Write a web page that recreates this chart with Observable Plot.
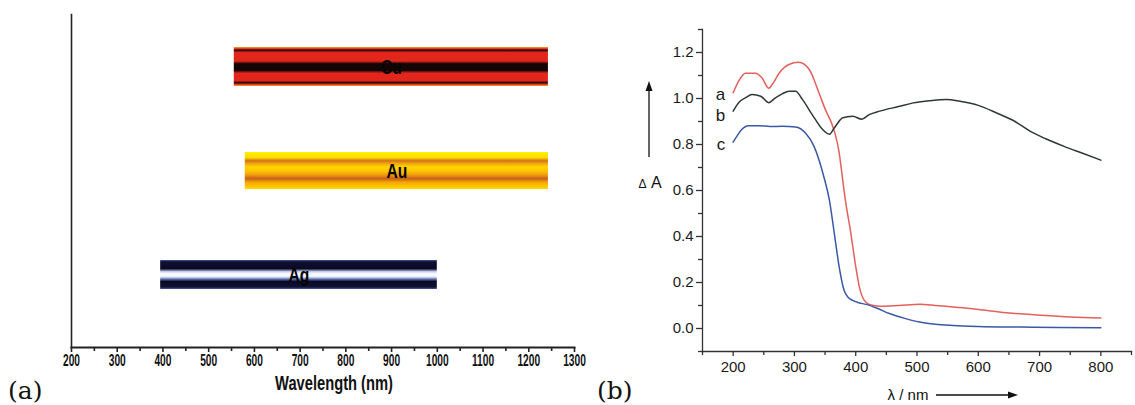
<!DOCTYPE html>
<html><head><meta charset="utf-8">
<script src="https://cdn.jsdelivr.net/npm/d3@7"></script>
<script src="https://cdn.jsdelivr.net/npm/@observablehq/plot@0.6"></script>
<style>
body{margin:0;background:#fff;}
#wrap{position:relative;width:1135px;height:405px;overflow:hidden;background:#fff;}
#pa{position:absolute;left:0;top:0;}
#pb{position:absolute;left:600px;top:0;}
.tag{position:absolute;font-family:"DejaVu Serif","Liberation Serif",serif;font-size:25px;color:#111;line-height:1;}
</style></head><body>
<div id="wrap"><div id="pa"></div><div id="pb"></div>
<div class="tag" style="left:8px;top:378px">(a)</div>
<div class="tag" style="left:597px;top:378px">(b)</div>
</div>
<script>
// ---------- Panel (a) data ----------
const metals = ["Cu", "Au", "Ag"];
const rangeStart = [556, 580, 395];
const rangeEnd = [1243, 1243, 1000];
const xTicksA = [200, 300, 400, 500, 600, 700, 800, 900, 1000, 1100, 1200, 1300];
const xMinorA = [250, 350, 450, 550, 650, 750, 850, 950, 1050, 1150, 1250];

// ---------- Panel (b) data ----------
const wlA = [200, 210, 220, 236, 247, 258, 266, 275, 291, 307, 324, 340, 350, 361, 366, 373, 376, 383, 392, 400, 406, 414, 422, 440, 470, 505, 530, 586, 640, 700, 750, 800];
const dAA = [1.025, 1.08, 1.11, 1.11, 1.09, 1.045, 1.07, 1.11, 1.148, 1.158, 1.127, 1.025, 0.955, 0.89, 0.85, 0.765, 0.705, 0.56, 0.415, 0.27, 0.18, 0.122, 0.105, 0.097, 0.100, 0.105, 0.100, 0.087, 0.07, 0.058, 0.05, 0.046];
const wlB = [200, 210, 220, 231, 245, 258, 269, 280, 291, 302, 313, 329, 346, 357, 365, 379, 395, 410, 422, 439, 470, 494, 520, 548, 570, 600, 630, 660, 685, 710, 740, 770, 800];
const dAB = [0.945, 0.985, 1.003, 1.017, 1.01, 0.982, 1.003, 1.02, 1.032, 1.032, 0.996, 0.93, 0.865, 0.845, 0.872, 0.916, 0.923, 0.91, 0.93, 0.945, 0.965, 0.981, 0.99, 0.996, 0.988, 0.97, 0.937, 0.9, 0.857, 0.825, 0.792, 0.762, 0.732];
const wlC = [200, 207, 214, 225, 242, 260, 280, 302, 318, 332, 340, 348, 357, 365, 373, 381, 388, 395, 405, 417, 435, 455, 480, 504, 530, 559, 600, 669, 730, 800];
const dAC = [0.81, 0.84, 0.865, 0.882, 0.882, 0.878, 0.879, 0.876, 0.85, 0.792, 0.734, 0.66, 0.559, 0.415, 0.268, 0.166, 0.135, 0.122, 0.112, 0.105, 0.088, 0.065, 0.044, 0.028, 0.018, 0.013, 0.009, 0.006, 0.004, 0.003];
const seriesNames = ["a", "b", "c"];
const seriesColors = ["#e2615b", "#2e3838", "#3a58a6"];
const xTicksB = [200, 300, 400, 500, 600, 700, 800];
const xMinorB = [150, 250, 350, 450, 550, 650, 750, 850];
const yTicksB = [0, 0.2, 0.4, 0.6, 0.8, 1.0, 1.2];
const yMinorB = [-0.1, 0.1, 0.3, 0.5, 0.7, 0.9, 1.1, 1.3];

// ---------- Panel (a) ----------
const bars = metals.map((m, i) => ({metal: m, start: rangeStart[i], end: rangeEnd[i]}));
const boldFont = "'Liberation Sans',Arial,sans-serif";
const insets = {Cu: -1, Au: 0, Ag: 4};
const pa = Plot.plot({
  width: 600, height: 405,
  marginLeft: 71, marginRight: 26, marginTop: 14, marginBottom: 58,
  x: {domain: [200, 1300]},
  y: {type: "band", domain: metals, range: [14.5, 326.5], paddingInner: 0.644, paddingOuter: 0.322, axis: null},
  style: {background: "transparent", overflow: "visible"},
  marks: [
    ...metals.map(m => Plot.barX(bars.filter(d => d.metal === m), {
      x1: "start", x2: "end", y: "metal",
      fill: `url(#grad-${m})`,
      insetTop: insets[m], insetBottom: insets[m]
    })),
    Plot.text(bars, {x: d => (d.start + d.end) / 2, y: "metal", text: "metal", dy: 1,
      fontWeight: "bold", fontSize: 20, fontFamily: boldFont, fill: "#050505", className: "squeeze-78"}),
    Plot.frame({anchor: "left", stroke: "#222", strokeWidth: 1.6}),
    Plot.frame({anchor: "bottom", stroke: "#222", strokeWidth: 2}),
    Plot.axisX({ticks: xTicksA, tickSize: 5, tickPadding: 1, tickFormat: d => String(d), label: null,
      fontSize: 17, fontWeight: "bold", fontFamily: boldFont, stroke: "#222", strokeWidth: 1.6, color: "#111",
      className: "squeeze-60"}),
    Plot.axisX({ticks: xMinorA, tickSize: 4, tickFormat: () => "", label: null, stroke: "#222", strokeWidth: 1.6}),
    Plot.text(["Wavelength (nm)"], {frameAnchor: "bottom", dx: 11, dy: 42,
      fontWeight: "bold", fontSize: 21, fontFamily: boldFont, fill: "#111", className: "squeeze-70"})
  ]
});
document.getElementById("pa").appendChild(pa);

// condense bold labels in panel (a) like the reference's narrow face
for (const [cls, f] of [["squeeze-60", 0.60], ["squeeze-70", 0.70], ["squeeze-78", 0.78]]) {
  d3.select(pa).selectAll(`.${cls} text`).each(function () {
    const len = this.getComputedTextLength();
    if (len > 0) d3.select(this).attr("textLength", len * f).attr("lengthAdjust", "spacingAndGlyphs");
  });
}

const defs = d3.select(pa).insert("defs", ":first-child");
const gradStops = {
  Cu: [[0, "#f6a52a"], [0.04, "#e8391f"], [0.08, "#1a0807"], [0.14, "#e2261c"], [0.36, "#e2261c"], [0.43, "#140505"], [0.60, "#140505"], [0.67, "#e2261c"], [0.86, "#e2261c"], [0.92, "#1a0807"], [0.96, "#e8391f"], [1, "#f6a52a"]],
  Au: [[0, "#fff200"], [0.15, "#ffd800"], [0.24, "#d0701a"], [0.30, "#f0a010"], [0.40, "#ffd400"], [0.52, "#ffc400"], [0.62, "#f09a10"], [0.72, "#c8601a"], [0.82, "#f5a800"], [1, "#ffd800"]],
  Ag: [[0, "#4858a8"], [0.06, "#101030"], [0.30, "#0a0a25"], [0.40, "#c8d0f0"], [0.48, "#ffffff"], [0.58, "#e8ecff"], [0.66, "#6070b0"], [0.74, "#0a0a25"], [0.93, "#101030"], [1, "#4858a8"]]
};
for (const m of metals) {
  const g = defs.append("linearGradient").attr("id", `grad-${m}`)
    .attr("x1", 0).attr("y1", 0).attr("x2", 0).attr("y2", 1);
  for (const [o, c] of gradStops[m]) g.append("stop").attr("offset", o).attr("stop-color", c);
}

// ---------- Panel (b) ----------
const curves = [[wlA, dAA], [wlB, dAB], [wlC, dAC]].map(([w, v], k) =>
  w.map((x, i) => ({series: seriesNames[k], wl: x, dA: v[i]})));
const font = "'Liberation Sans',Arial,sans-serif";
const labelDy = [2, 4, 2];
const pb = Plot.plot({
  width: 535, height: 405,
  marginLeft: 102, marginRight: 4, marginTop: 29, marginBottom: 54,
  x: {domain: [150, 850]},
  y: {domain: [-0.1, 1.3]},
  style: {background: "transparent", overflow: "visible"},
  marks: [
    Plot.frame({anchor: "left", stroke: "#333", strokeWidth: 1.3}),
    Plot.frame({anchor: "bottom", stroke: "#333", strokeWidth: 1.3}),
    Plot.axisY({ticks: yTicksB, tickSize: 6, tickPadding: 3, tickFormat: d3.format(".1f"), label: null,
      fontSize: 15, fontFamily: font, color: "#1a1a1a", stroke: "#333", strokeWidth: 1.3}),
    Plot.axisY({ticks: yMinorB, tickSize: 4, tickFormat: () => "", label: null, stroke: "#333", strokeWidth: 1.3}),
    Plot.axisX({ticks: xTicksB, tickSize: 5, tickPadding: 5, tickFormat: d => String(d), label: null,
      fontSize: 15, fontFamily: font, color: "#1a1a1a", stroke: "#333", strokeWidth: 1.3}),
    Plot.axisX({ticks: xMinorB, tickSize: 4, tickFormat: () => "", label: null, stroke: "#333", strokeWidth: 1.3}),
    ...curves.map((c, k) => Plot.line(c, {x: "wl", y: "dA", stroke: seriesColors[k], strokeWidth: 1.5, curve: "monotone-x"})),
    ...curves.map((c, k) => Plot.text([c[0]], {x: "wl", y: "dA", text: "series", textAnchor: "end", dx: -8, dy: labelDy[k],
      fontSize: 17, fontFamily: font, fill: "#1a1a1a"}))
  ]
});
document.getElementById("pb").appendChild(pb);

// axis annotations (labels with arrows)
const sb = d3.select(pb);
const ann = sb.append("g").attr("fill", "#111").attr("stroke", "#111");
const lbl = ann.append("text").attr("x", 50).attr("y", 188).attr("stroke", "none")
  .attr("text-anchor", "middle").attr("font-family", font).attr("font-size", 16);
lbl.append("tspan").attr("font-size", 12).text("Δ");
lbl.append("tspan").text(" A");
ann.append("line").attr("x1", 49).attr("x2", 49).attr("y1", 157).attr("y2", 90).attr("stroke-width", 1.3);
ann.append("path").attr("d", "M49,81 L45.5,91 L52.5,91 Z").attr("stroke", "none");
ann.append("text").attr("x", 308).attr("y", 400).attr("stroke", "none")
  .attr("text-anchor", "middle").attr("font-family", font).attr("font-size", 15).text("λ / nm");
ann.append("line").attr("x1", 336).attr("x2", 408).attr("y1", 395).attr("y2", 395).attr("stroke-width", 1.3);
ann.append("path").attr("d", "M418,395 L408,391.5 L408,398.5 Z").attr("stroke", "none");
</script>
</body></html>
